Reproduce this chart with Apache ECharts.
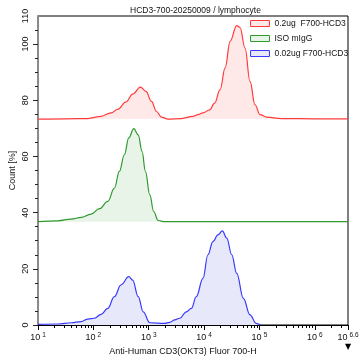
<!DOCTYPE html>
<html>
<head>
<meta charset="utf-8">
<script src="https://cdn.jsdelivr.net/npm/echarts@6/dist/echarts.min.js"></script>
<style>html,body{margin:0;padding:0;background:#fff}#c{width:360px;height:357px}</style>
</head>
<body>
<div id="c"></div>
<script>
// x positions are log10(fluorescence); y values are Count [%] in the offset histogram view
const redLog   = [1.0,1.5,1.9,2.14,2.32,2.44,2.59,2.71,2.85,2.95,3.05,3.14,3.23,3.35,3.59,3.80,3.89,3.98,4.10,4.19,4.29,4.38,4.47,4.59,4.65,4.74,4.83,4.92,5.01,5.13,5.4,6.0,6.6];
const redCount = [73.3,73.4,73.5,74.3,75.5,76.8,79.4,82.2,84.7,83.2,79.6,76.0,74.0,73.3,73.5,74.3,74.9,75.5,76.6,79.0,83.8,91.5,101.0,106.6,105.9,98.6,86.7,78.4,74.9,74.0,73.5,73.4,73.4];
const greenLog   = [1.0,1.36,1.60,1.78,1.96,2.11,2.26,2.38,2.47,2.56,2.64,2.73,2.81,2.88,2.94,3.02,3.09,3.17,3.29,4.0,5.0,6.6];
const greenCount = [36.8,37.1,37.7,38.3,39.5,41.4,44.0,48.7,54.7,60.6,66.6,69.9,67.7,61.8,54.7,46.3,40.4,37.2,36.8,36.8,36.8,36.8];
const blueLog   = [1.0,1.36,1.60,1.78,1.90,2.02,2.14,2.26,2.38,2.50,2.64,2.71,2.81,2.90,3.02,3.29,3.38,3.47,3.56,3.68,3.77,3.86,3.98,4.07,4.16,4.25,4.33,4.41,4.50,4.59,4.71,4.83,4.94,5.02];
const blueCount = [0.2,0.35,0.8,1.2,2.1,2.4,3.8,5.9,10.1,14.3,17.2,16.0,10.1,4.7,0.8,0.6,0.95,1.8,2.4,4.7,5.9,10.1,16.6,25.0,29.7,32.1,33.5,30.9,25.0,18.4,9.5,3.6,0.6,0];
const baselines = [73.4, 36.8, 0];
const seriesNames = ['0.2ug  F700-HCD3', 'ISO mIgG', '0.02ug F700-HCD3'];
const xMajorTicks = [1,2,3,4,5,6,6.6];
const yLabelValues = [0,20,40,60,80,100,110];
const yMajorTicks = [0,20,40,60,80,100];

const lineColors = ['#ff3b3b', '#2e9a2e', '#3a3aff'];
const fillColors = ['#ffe8e8', '#e9f4e9', '#e8e8fb'];

const xMinor = [];
for (let d = 1; d <= 6; d++) {
  for (let k = 2; k <= 9; k++) {
    const v = d + Math.log10(k);
    if (v < 6.6) xMinor.push(v);
  }
}
const yMinor = [];
for (let v = 5; v < 110; v += 5) if (v % 20 !== 0) yMinor.push(v);

const pairs = (xs, ys) => xs.map((x, i) => [x, ys[i]]);
const dataSets = [pairs(redLog, redCount), pairs(greenLog, greenCount), pairs(blueLog, blueCount)];

const font = 'Liberation Sans, Arial, sans-serif';
const chart = echarts.init(document.getElementById('c'), null, {renderer: 'canvas'});
chart.setOption({
  animation: false,
  title: {
    text: 'HCD3-700-20250009 / lymphocyte',
    left: 125, top: 1,
    textStyle: {fontSize: 8.5, fontWeight: 'normal', color: '#111', fontFamily: font}
  },
  legend: {
    orient: 'vertical', left: 250, top: 19, padding: 0,
    itemWidth: 19, itemHeight: 6, itemGap: 6,
    textStyle: {fontSize: 8.5, color: '#111', fontFamily: font},
    data: seriesNames.map((n, i) => ({
      name: n, icon: 'rect',
      itemStyle: {color: fillColors[i], borderColor: lineColors[i], borderWidth: 1}
    }))
  },
  grid: {left: 38, right: 12, top: 16, bottom: 32, show: true, borderColor: '#000', borderWidth: 1,
         backgroundColor: 'transparent', containLabel: false, outerBoundsMode: 'none'},
  xAxis: [{
    type: 'value', min: 1, max: 6.6,
    name: 'Anti-Human CD3(OKT3) Fluor 700-H', nameLocation: 'middle', nameGap: 21,
    nameTextStyle: {fontSize: 9, color: '#111', fontFamily: font, padding: [0, 20, 0, 0]},
    axisLine: {lineStyle: {color: '#000', width: 1}},
    axisTick: {customValues: xMajorTicks, length: 5, lineStyle: {color: '#000'}},
    splitLine: {show: false},
    axisLabel: {
      customValues: xMajorTicks, margin: 7, color: '#111',
      formatter: v => '{b|10}{s|' + (Math.round(v * 10) / 10) + '}',
      rich: {
        b: {fontSize: 9, fontFamily: font, color: '#111'},
        s: {fontSize: 6.5, fontFamily: font, color: '#111', padding: [0, 0, 5, 2]}
      }
    }
  }, {
    type: 'value', min: 1, max: 6.6, position: 'bottom',
    axisLine: {show: false},
    axisTick: {customValues: xMinor, length: 3, lineStyle: {color: '#000'}},
    axisLabel: {show: false}, splitLine: {show: false}
  }],
  yAxis: [{
    type: 'value', min: 0, max: 110,
    name: 'Count [%]', nameLocation: 'middle', nameGap: 21, nameMoveOverlap: false,
    nameTextStyle: {fontSize: 9, color: '#111', fontFamily: font},
    axisLine: {show: true, lineStyle: {color: '#8a8a8a', width: 2}},
    axisTick: {show: true, customValues: yMajorTicks, length: 5, lineStyle: {color: '#222'}},
    splitLine: {show: false},
    axisLabel: {customValues: yLabelValues, rotate: 90, fontSize: 9, color: '#111', fontFamily: font, margin: 8}
  }, {
    type: 'value', min: 0, max: 110, position: 'left',
    axisLine: {show: false},
    axisTick: {show: true, customValues: yMinor, length: 3, lineStyle: {color: '#222'}},
    axisLabel: {show: false}, splitLine: {show: false}
  }],
  series: dataSets.map((d, i) => ({
    name: seriesNames[i], type: 'line', data: d,
    xAxisIndex: 0, yAxisIndex: 0,
    showSymbol: false, symbol: 'none', smooth: 0.4, smoothMonotone: 'x',
    itemStyle: {color: lineColors[i]},
    lineStyle: {color: lineColors[i], width: 1.2},
    areaStyle: {color: fillColors[i], opacity: 1, origin: baselines[i]},
    z: 2
  })),
  graphic: [{
    type: 'text', left: 345, top: 343,
    style: {text: '▼', fontSize: 8, fill: '#000', fontFamily: 'DejaVu Sans'}
  }]
});
</script>
</body>
</html>
